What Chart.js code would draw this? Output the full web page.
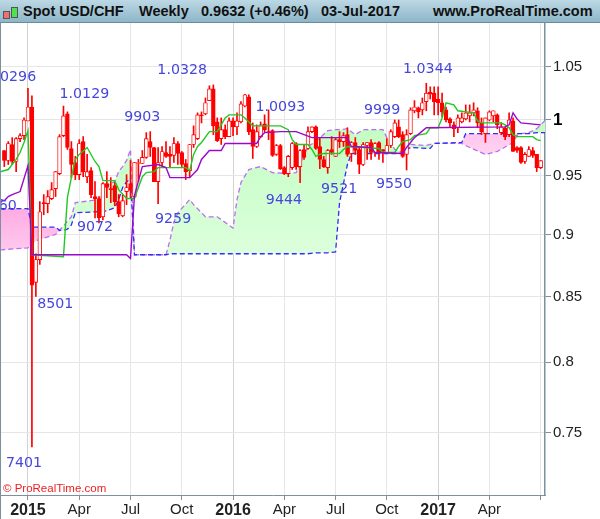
<!DOCTYPE html>
<html>
<head>
<meta charset="utf-8">
<title>Spot USD/CHF Weekly</title>
<script src="https://cdn.jsdelivr.net/npm/chart.js@4"></script>
<style>
  html, body { margin: 0; padding: 0; background: #fff; }
  #wrap { position: relative; width: 600px; height: 519px; overflow: hidden; }
  #grafico { position: absolute; left: 0; top: 0; }
  #cabecera {
    position: absolute; left: 0; top: 0; width: 600px; height: 22px;
    background: linear-gradient(#bcd8e4, #8db6c9);
    border-bottom: 1px solid #6f8a97;
    font: bold 14.5px "Liberation Sans", Arial, sans-serif; color: #111;
  }
  #cabecera span { position: absolute; top: 3px; white-space: nowrap; }
  #cabecera i { position: absolute; display: block; border: 1px solid #555; }
  #ic1 { left: 3px; top: 11px; width: 5px; height: 6px; background: #f07070; }
  #ic2 { left: 11px; top: 7px; width: 5px; height: 9px; background: #50e050; }
</style>
</head>
<body>
<div id="wrap">
  <canvas id="grafico" width="600" height="519"></canvas>
  <div id="cabecera">
    <i id="ic1"></i><i id="ic2"></i>
    <span style="left:23px">Spot USD/CHF</span>
    <span style="left:139px">Weekly</span>
    <span style="left:201px">0.9632 (+0.46%)</span>
    <span style="left:321px">03-Jul-2017</span>
    <span style="left:433px">www.ProRealTime.com</span>
  </div>
</div>
<script>
// ===== Datos =====
const highs = [.9723,.9803,.9839,.9839,.9875,1.0019,1.0296,1.0225,.8841,.9276,.9336,.9371,.944,.9536,.9866,1.0129,1.0075,.9803,.967,.9821,
  .9848,.9688,.9571,.9448,.9319,.944,.9536,.9483,.944,.9336,.9336,.9509,.9634,.9616,.9643,.9723,.9884,.9893,.975,.975,
  .9759,.9803,.9759,.9839,.9803,.9714,.9643,.9777,.9946,1.0066,1.0075,1.0205,1.032,1.0328,1.0019,1.0019,.9955,1.0019,1.0019,1.0066,
  1.017,1.024,1.0235,.9973,.9955,.9982,1.0047,1.0093,.9911,.9777,.9777,.958,.9679,.9795,.9795,.9732,.9777,.9937,.9937,.9946,
  .9839,.967,.9732,.9848,.9839,.9893,.9884,.9929,.9803,.9839,.9759,.9795,.9795,.9821,.9795,.9803,.9732,.983,.9911,1.0,
  1.0,.9893,.9911,1.0113,1.018,1.012,1.0205,1.0344,1.031,1.031,1.031,1.025,1.012,1.0019,.9982,1.0047,1.0066,1.014,1.014,1.016,
  1.0113,1.0019,1.0019,1.0085,1.0085,1.0056,.9973,.9937,1.0066,1.0019,.9759,.9759,.9705,.9759,.975,.9688,.9634];
const lows = [.958,.9598,.9598,.9536,.9803,.9821,.9991,.7401,.8501,.8755,.9164,.9181,.9293,.9319,.9509,.9848,.9732,.9483,.9466,.9466,
  .9491,.944,.931,.9138,.9095,.9121,.931,.9267,.9241,.9147,.9147,.925,.931,.931,.9448,.9607,.9652,.967,.9448,.9259,
  .958,.9661,.958,.9616,.9598,.958,.9466,.9483,.975,.9821,.9973,1.0047,1.018,.9866,.9803,.9777,.983,.9848,.9857,.9866,
  .9973,1.012,.9866,.9652,.975,.9839,.9893,.9821,.967,.9679,.9554,.9509,.9491,.9554,.9554,.944,.9643,.9732,.9884,.9732,
  .9562,.9571,.9521,.9688,.967,.975,.9759,.967,.9625,.9688,.9518,.9589,.9643,.9643,.967,.9643,.9616,.9705,.975,.9839,
  .9839,.9661,.955,.9866,1.0066,1.0019,1.0047,1.0085,1.0195,1.0047,1.0047,1.0028,.9982,.9937,.9848,.9884,.9973,1.0,.9982,1.0038,
  .9929,.9866,.9795,.9991,.9982,.992,.9866,.9821,.9848,.9714,.9705,.9607,.9607,.967,.9661,.9536,.9562];
const opens = [.9723,.9634,.9777,.9625,.983,.9857,.9991,1.012,.8611,.8794,.9267,.9259,.9302,.9388,.9518,.9857,1.0056,.9741,.9616,.9509,
  .9803,.9491,.9545,.9319,.9302,.9147,.9431,.9388,.9414,.9276,.9155,.9362,.9431,.9319,.9607,.9607,.9661,.9803,.975,.9448,
  .9616,.9705,.9688,.9679,.9786,.9705,.9607,.9545,.9777,.983,1.0047,1.0056,1.018,1.029,.9982,.983,.9911,.9848,.9991,.9937,
  .9982,1.013,1.0215,.9911,.9759,.9848,.9964,.9893,.9902,.9688,.9768,.9571,.9518,.9571,.9786,.958,.9732,.9741,.9893,.9937,
  .9759,.9643,.9571,.9732,.967,.9821,.9803,.9866,.9696,.9795,.9732,.9598,.9768,.9795,.9705,.9795,.9732,.9705,.9768,.9848,
  .9937,.9866,.9688,.9875,1.0085,1.0113,1.0094,1.017,1.026,1.025,1.0195,1.016,1.0094,1.001,.9955,.9929,.9982,1.001,1.0038,1.0066,
  1.0085,.9973,.9875,1.0,1.0038,1.0047,.9884,.9929,.9866,.9991,.975,.975,.9625,.967,.9723,.9688,.9571];
const closes = [.9634,.9786,.9625,.983,.9857,1.0,1.012,.8588,.8794,.919,.9259,.9319,.9379,.9536,.9848,1.0038,.975,.9598,.9509,.9786,
  .9536,.9536,.9336,.9302,.9138,.9431,.9397,.9379,.9276,.9172,.9284,.9397,.9371,.9616,.9616,.9661,.983,.975,.9448,.9616,
  .9714,.967,.967,.9786,.9696,.9598,.9536,.9777,.9866,1.0047,1.0038,1.016,1.029,.9946,.9812,.9911,.9848,.9991,.9937,.9991,
  1.015,1.0235,.9893,.9759,.9893,.9955,.9911,.9884,.9679,.9768,.9562,.9518,.967,.9786,.958,.9723,.9661,.9893,.9937,.9741,
  .9643,.958,.9723,.9705,.9821,.9803,.9857,.9688,.9795,.9723,.9598,.9777,.9795,.9705,.9786,.9705,.9714,.9768,.9893,.9973,
  .9848,.967,.9866,1.0094,1.012,1.0075,1.016,1.025,1.024,1.017,1.016,1.0075,1.0,.9973,.992,1.0019,1.0019,1.0066,1.0066,1.0094,
  .9973,.9893,1.0019,1.0075,1.0085,.9955,.9937,.9848,1.0,.9714,.9723,.9616,.9688,.9732,.9679,.9571,.9632];

// linea verde
const greenIdx = [-1,1,2,3,4,5,6,7,15,16,17,18,19,21,23,24,25,28,29,31,33,34,35,36,38,39,46,47,48,49,50,52,54,55,56,57,60,61,62,63,70,72,73,74,77,78,79,80,81,85,86,87,95,96,99,100,101,103,104,107,108,110,111,112,114,115,119,120,121,126,127,128,129,130,134,135,136];
const greenVal = [.9536,.9554,.9598,.9643,.9705,.9795,.9902,.8833,.8817,.931,.9483,.9643,.9688,.975,.9625,.958,.9457,.9457,.9379,.9302,.9302,.9397,.9491,.9527,.9536,.9571,.9571,.9545,.9688,.9759,.9795,.9893,.9893,.9955,1.0019,1.0047,1.0047,1.0019,.9982,.9946,.9946,.9911,.9821,.9777,.9777,.9732,.967,.9688,.9696,.9696,.9732,.9759,.9741,.9705,.9705,.9759,.9803,.9821,.9857,.9875,.9929,.9929,1.0019,1.016,1.014,1.0085,1.0066,.9991,.9973,.9973,.9955,.9929,.9866,.9848,.9848,.9821,.9812];

// linea violeta
const purpleIdx = [-1,0,1,2,4,6,7,31,32,33,35,39,41,42,47,49,50,52,55,56,64,65,66,70,74,76,78,87,88,93,94,101,102,104,107,127,128,129,130,131,136];
const purpleVal = [.9293,.9284,.9319,.9336,.9362,.9589,.8833,.8833,.8802,.9328,.958,.9598,.9571,.9483,.9483,.9554,.9643,.9723,.9723,.9786,.9786,.9848,.9884,.9893,.9893,.9866,.9839,.9839,.9759,.975,.9705,.9696,.975,.9839,.9929,.9937,.9955,1.0066,1.001,.9973,.9955];

// nube: dos bordes punteados sobre los mismos indices
const cloudIdx = [-1,6,7,13,14,15,16,17,18,24,25,26,28,29,30,31,32,33,41,42,43,44,47,48,51,54,58,59,60,62,65,68,72,74,77,79,82,84,85,87,88,89,91,96,97,98,99,101,102,103,107,108,109,116,117,118,122,125,129,130,131,133,135,137,138];
const cloudA = [.8873,.8889,.8936,.9,.9034,.9069,.9112,.9147,.9267,.9293,.9379,.9414,.9448,.9536,.958,.9634,.9732,.8833,.8833,.8952,.9103,.9181,.9293,.925,.9147,.9147,.9052,.9293,.944,.9554,.958,.9527,.9518,.9527,.9759,.9803,.9902,.9911,.9911,.992,.9893,.9866,.9911,.9911,.9839,.9795,.9732,.9705,.9777,.9777,.9768,.9777,.9786,.9786,.9768,.975,.9688,.9714,.9795,.9857,.9875,.9884,.992,.9991,1.0028];
const cloudB = [.9216,.9216,.906,.906,.9034,.9034,.9043,.9078,.9181,.919,.919,.9198,.9224,.9293,.9397,.9448,.9466,.8833,.8833,.8841,.8841,.8841,.8841,.8841,.8841,.8841,.8841,.8841,.8841,.8841,.8841,.8841,.8841,.8841,.8841,.8849,.8849,.8857,.9267,.9598,.9696,.9696,.9696,.9696,.9696,.9696,.9696,.9696,.9732,.975,.9741,.9741,.9786,.9795,.9875,.9875,.9875,.9875,.9875,.9875,.9875,.9875,.9884,.9884,.9884];

// escalas
const yTicks = [1.05, 1, .95, .9, .85, .8, .75];
const yLabels = ["1.05", "1", "0.95", "0.9", "0.85", "0.8", "0.75"];
const xTicks = [6, 19, 32, 45, 58, 71, 84, 97, 110, 123, 136];
const xLabels = ["2015", "Apr", "Jul", "Oct", "2016", "Apr", "Jul", "Oct", "2017", "Apr", ""];

// etiquetas de maximos y minimos
const noteText = ["0296", "1.0129", "9903", "1.0328", "1.0093", "9999", "1.0344", "9259", "9072", "60", "8501", "7401", "9444", "9521", "9550"];
const noteIdx = [3.5, 20.3, 35, 45.1, 70, 95.8, 107.4, 42.8, 23, .9, 12.9, 5, 70.9, 84.9, 98.8];
const noteVal = [1.0405, 1.0235, 1.0028, 1.047, 1.012, 1.0085, 1.048, .9129, .906, .9233, .8438, .7292, .9284, .9379, .9422];

const ROJO = "#ff0000";

// ===== Plugin para textos sueltos y borde =====
const extras = {
  id: "extras",
  afterDatasetsDraw(chart) {
    const { ctx, scales } = chart;
    ctx.save();
    ctx.font = '14.2px "DejaVu Sans", sans-serif';
    ctx.fillStyle = "#4646dc";
    ctx.textAlign = "center";
    ctx.textBaseline = "middle";
    noteText.forEach((t, i) => {
      ctx.fillText(t, scales.x.getPixelForValue(noteIdx[i]), scales.y.getPixelForValue(noteVal[i]));
    });
    ctx.font = '11.5px "Liberation Sans", Arial, sans-serif';
    ctx.fillStyle = "#ee2020";
    ctx.textAlign = "left";
    ctx.fillText("© ProRealTime.com", 3, 489);
    ctx.fillStyle = "#7b929e";
    ctx.fillRect(0, 23, 1, 496);
    ctx.restore();
  }
};

// ===== Grafico =====
function dibujarGrafico() {
  const ctx = document.getElementById("grafico").getContext("2d");

  const gradVerde = ctx.createLinearGradient(0, 130, 0, 255);
  gradVerde.addColorStop(0, "#c4fdc4");
  gradVerde.addColorStop(1, "#dcffdc");
  const gradRosa = ctx.createLinearGradient(0, 130, 0, 250);
  gradRosa.addColorStop(0, "#ffc2ee");
  gradRosa.addColorStop(0.2, "#ffd4f2");
  gradRosa.addColorStop(0.6, "#ffa6e2");
  gradRosa.addColorStop(1, "#ffc8ee");

  const pts = (xs, ys) => xs.map((x, i) => ({ x, y: ys[i] }));
  const wicks = highs.map((h, i) => ({ x: i, y: [lows[i], h] }));
  const bodies = opens.map((o, i) => ({ x: i, y: [Math.min(o, closes[i]), Math.max(o, closes[i])] }));
  const bodyFill = opens.map((o, i) => (closes[i] > o ? "#ffffff" : ROJO));

  const lineBase = { type: "line", pointRadius: 0, tension: 0, fill: false };

  new Chart(ctx, {
    data: {
      datasets: [
        { ...lineBase, label: "Span A", data: pts(cloudIdx, cloudA), order: 11, borderColor: "#bd6ef0", borderWidth: 1.3, borderDash: [5, 3],
          fill: { target: 1, above: gradVerde, below: gradRosa } },
        { ...lineBase, label: "Span B", data: pts(cloudIdx, cloudB), order: 10, borderColor: "#2f2ff5", borderWidth: 1.3, borderDash: [5, 3] },
        { type: "bar", label: "Wick", data: wicks, order: 6, grouped: false, barThickness: 1, backgroundColor: ROJO },
        { type: "bar", label: "Body", data: bodies, order: 5, grouped: false, barThickness: 3.8, backgroundColor: bodyFill, borderColor: ROJO, borderWidth: 0.9, borderSkipped: false },
        { ...lineBase, label: "Green", data: pts(greenIdx, greenVal), order: 2, borderColor: "#22c822", borderWidth: 1.4 },
        { ...lineBase, label: "Purple", data: pts(purpleIdx, purpleVal), order: 1, borderColor: "#9a08cc", borderWidth: 1.4 }
      ]
    },
    options: {
      responsive: false,
      animation: false,
      parsing: true,
      layout: { padding: { top: 23, left: 1, right: 0, bottom: 0 } },
      plugins: { legend: { display: false }, tooltip: { enabled: false } },
      scales: {
        x: {
          type: "linear", min: -0.84, max: 137.1, offset: false,
          afterBuildTicks: s => { s.ticks = xTicks.map(v => ({ value: v })); },
          afterFit: s => { s.height = 24; },
          border: { color: "#7b929e", width: 1 },
          grid: {
            tickLength: 5, tickColor: "#7b929e", offset: false,
            color: c => ([0, 4, 8].includes(c.index) ? "#d2d2d2" : "#e6e6e6")
          },
          ticks: {
            autoSkip: false, maxRotation: 0, padding: 1, color: "#222",
            callback: (v, i) => xLabels[i],
            font: c => ([0, 4, 8].includes(c.index)
              ? { family: '"Liberation Sans"', size: 16, weight: "bold" }
              : { family: '"Liberation Sans"', size: 15 })
          }
        },
        y: {
          type: "logarithmic", position: "right", min: 0.708, max: 1.0934,
          afterBuildTicks: s => { s.ticks = yTicks.map(v => ({ value: v })); },
          afterFit: s => { s.width = 55; },
          border: { color: "#7b929e", width: 1.5 },
          grid: { tickLength: 6, tickColor: "#7b929e", color: "#e6e6e6" },
          ticks: {
            autoSkip: false, padding: 2, color: c => (c.index === 1 ? "#000" : "#222"),
            callback: (v, i) => yLabels[i],
            font: c => (c.index === 1
              ? { family: '"Liberation Sans"', size: 17, weight: "bold" }
              : { family: '"Liberation Sans"', size: 15 })
          }
        }
      }
    },
    plugins: [extras]
  });
}

dibujarGrafico();
</script>
</body>
</html>
